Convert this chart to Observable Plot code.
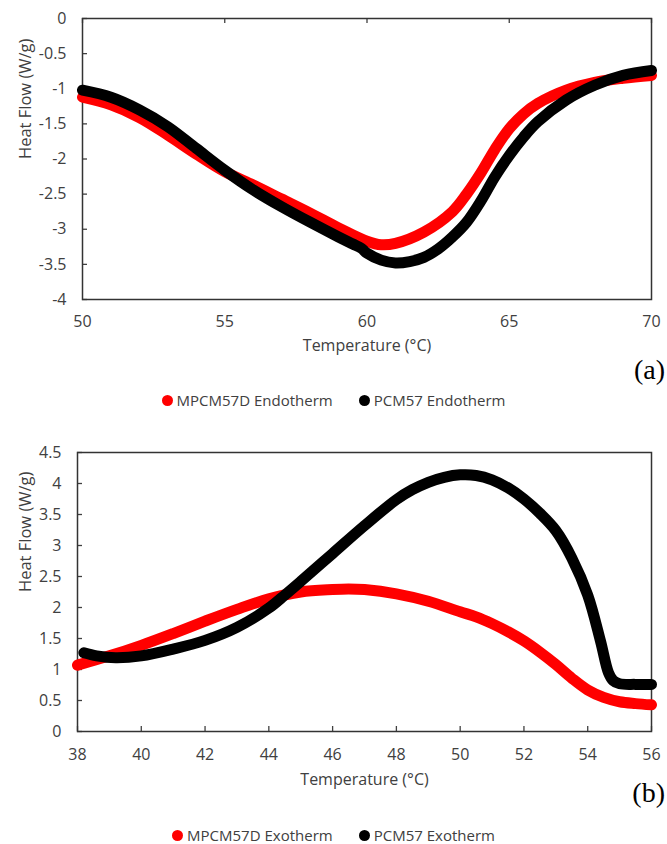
<!DOCTYPE html>
<html><head><meta charset="utf-8">
<script src="https://cdn.jsdelivr.net/npm/d3@7"></script>
<script src="https://cdn.jsdelivr.net/npm/@observablehq/plot@0.6"></script>
<style>
body{margin:0;background:#fff;}
#wrap{position:relative;width:667px;height:844px;overflow:hidden;font-family:"Open Sans",sans-serif;color:#404040;}
.panel{position:absolute;left:0;}
.legend{position:absolute;left:0;width:667px;display:flex;justify-content:center;gap:26px;font-size:15px;line-height:20px;color:#404040;}
.item{display:flex;align-items:center;gap:4px;}
.dot{width:11px;height:11px;border-radius:50%;display:inline-block;}
.tag{position:absolute;right:2px;font-family:"Liberation Serif","Times New Roman",serif;font-size:28px;line-height:1;color:#000;}
</style></head>
<body>
<div id="wrap">
  <div id="pa" class="panel" style="top:0"></div>
  <div class="tag" style="top:356px">(a)</div>
  <div id="la" class="legend" style="top:390px"></div>
  <div id="pb" class="panel" style="top:420px"></div>
  <div class="tag" style="top:779px">(b)</div>
  <div id="lb" class="legend" style="top:825px"></div>
</div>
<script>
// ---- Panel (a): Endotherm ----
const xTicksA = [50, 55, 60, 65, 70];
const yTicksA = [0, -0.5, -1, -1.5, -2, -2.5, -3, -3.5, -4];
const tempA_MPCM = [50, 51, 52, 53, 54, 55, 56, 57, 58, 59, 60, 60.5, 61, 62, 63, 63.5, 64, 64.5, 65, 65.5, 66, 67, 68, 69, 70];
const flowA_MPCM = [-1.12, -1.23, -1.41, -1.66, -1.93, -2.18, -2.37, -2.57, -2.77, -2.98, -3.17, -3.22, -3.2, -3.04, -2.75, -2.5, -2.2, -1.86, -1.57, -1.36, -1.21, -1.02, -0.91, -0.85, -0.81];
const tempA_PCM = [50, 51, 52, 53, 54, 55, 56, 57, 58, 59, 59.5, 59.8, 60, 60.5, 61, 61.5, 62, 62.5, 63, 63.5, 64, 64.5, 65, 65.5, 66, 67, 68, 69, 70];
const flowA_PCM = [-1.02, -1.12, -1.3, -1.54, -1.85, -2.16, -2.44, -2.68, -2.9, -3.11, -3.21, -3.27, -3.34, -3.44, -3.48, -3.46, -3.4, -3.28, -3.11, -2.9, -2.6, -2.25, -1.95, -1.69, -1.47, -1.16, -0.95, -0.81, -0.74];
const seriesA = ["MPCM57D Endotherm", "PCM57 Endotherm"];

// ---- Panel (b): Exotherm ----
const xTicksB = [38, 40, 42, 44, 46, 48, 50, 52, 54, 56];
const yTicksB = [0, 0.5, 1, 1.5, 2, 2.5, 3, 3.5, 4, 4.5];
const tempB_MPCM = [38, 39, 40, 41, 42, 43, 44, 45, 46, 46.5, 47, 48, 49, 50, 50.5, 51, 51.5, 52, 52.5, 53, 53.5, 54, 54.5, 55, 55.5, 56];
const flowB_MPCM = [1.07, 1.22, 1.39, 1.58, 1.78, 1.97, 2.14, 2.25, 2.29, 2.3, 2.29, 2.22, 2.1, 1.93, 1.85, 1.74, 1.61, 1.46, 1.28, 1.08, 0.86, 0.67, 0.55, 0.48, 0.45, 0.43];
const tempB_PCM = [38.2, 38.6, 39.2, 40, 41, 42, 43, 44, 44.5, 45, 46, 47, 48, 48.5, 49, 49.5, 50, 50.5, 51, 51.5, 52, 52.5, 53, 53.5, 54, 54.4, 54.65, 54.8, 55, 55.5, 56];
const flowB_PCM = [1.27, 1.22, 1.19, 1.22, 1.33, 1.47, 1.68, 1.99, 2.2, 2.42, 2.87, 3.32, 3.74, 3.9, 4.02, 4.1, 4.14, 4.13, 4.06, 3.93, 3.75, 3.52, 3.24, 2.8, 2.2, 1.46, 0.95, 0.82, 0.77, 0.76, 0.76];
const seriesB = ["MPCM57D Exotherm", "PCM57 Exotherm"];

const colors = ["#ff0000", "#000000"];
const ink = "#404040";

const toRows = (ts, vs) => ts.map((t, i) => ({t, v: vs[i]}));
const fmt = d => String(d);

function panel({xDomain, yDomain, xTicks, yTicks, red, black, height, mt, mb, ml, mr, xTickSide, xPad, titleDy, yLabelDx}) {
  const W = 667;
  const pw = W - ml - mr, ph = height - mt - mb;
  const tickLen = 5;
  return Plot.plot({
    width: W, height, marginTop: mt, marginBottom: mb, marginLeft: ml, marginRight: mr,
    style: {fontFamily: "Open Sans, sans-serif", fontSize: "16px", color: ink, background: "transparent", overflow: "visible"},
    x: {domain: xDomain},
    y: {domain: yDomain},
    marks: [
      Plot.axisX({anchor: "bottom", ticks: xTicks, tickSize: 0, tickPadding: xPad, tickFormat: fmt, label: null}),
      Plot.axisY({anchor: "left", ticks: yTicks, tickSize: 0, tickPadding: 16, tickFormat: fmt, label: null}),
      Plot.tickY(yTicks, {y: d => d, stroke: ink, strokeWidth: 1.3, insetRight: pw - tickLen}),
      Plot.tickX(xTicks, {x: d => d, stroke: ink, strokeWidth: 1.3,
        insetTop: xTickSide === "bottom" ? ph - tickLen : 0,
        insetBottom: xTickSide === "top" ? ph - tickLen : 0}),
      Plot.frame({stroke: "#333", strokeWidth: 1.5}),
      Plot.line(red, {x: "t", y: "v", stroke: colors[0], strokeWidth: 11, curve: "catmull-rom", strokeLinecap: "round", strokeLinejoin: "round"}),
      Plot.line(black, {x: "t", y: "v", stroke: colors[1], strokeWidth: 11, curve: "catmull-rom", strokeLinecap: "round", strokeLinejoin: "round"}),
      Plot.text(["Temperature (°C)"], {frameAnchor: "bottom", dy: titleDy, fontSize: 16, fill: ink}),
      Plot.text(["Heat Flow (W/g)"], {frameAnchor: "left", dx: yLabelDx, rotate: -90, fontSize: 16.5, fill: ink})
    ]
  });
}

document.getElementById("pa").append(panel({
  xDomain: [50, 70], yDomain: [-4, 0], xTicks: xTicksA, yTicks: yTicksA,
  red: toRows(tempA_MPCM, flowA_MPCM), black: toRows(tempA_PCM, flowA_PCM),
  height: 365, mt: 18, mb: 66, ml: 82, mr: 16, xTickSide: "top", xPad: 16, titleDy: 51, yLabelDx: -57
}));
document.getElementById("pb").append(panel({
  xDomain: [38, 56], yDomain: [0, 4.5], xTicks: xTicksB, yTicks: yTicksB,
  red: toRows(tempB_MPCM, flowB_MPCM), black: toRows(tempB_PCM, flowB_PCM),
  height: 380, mt: 32, mb: 69, ml: 77, mr: 16, xTickSide: "bottom", xPad: 17, titleDy: 53, yLabelDx: -52
}));

function legend(id, names) {
  const el = document.getElementById(id);
  names.forEach((n, i) => {
    const item = document.createElement("span");
    item.className = "item";
    const dot = document.createElement("span");
    dot.className = "dot";
    dot.style.background = colors[i];
    const txt = document.createElement("span");
    txt.textContent = n;
    item.append(dot, txt);
    el.append(item);
  });
}
legend("la", seriesA);
legend("lb", seriesB);
</script>
</body></html>
